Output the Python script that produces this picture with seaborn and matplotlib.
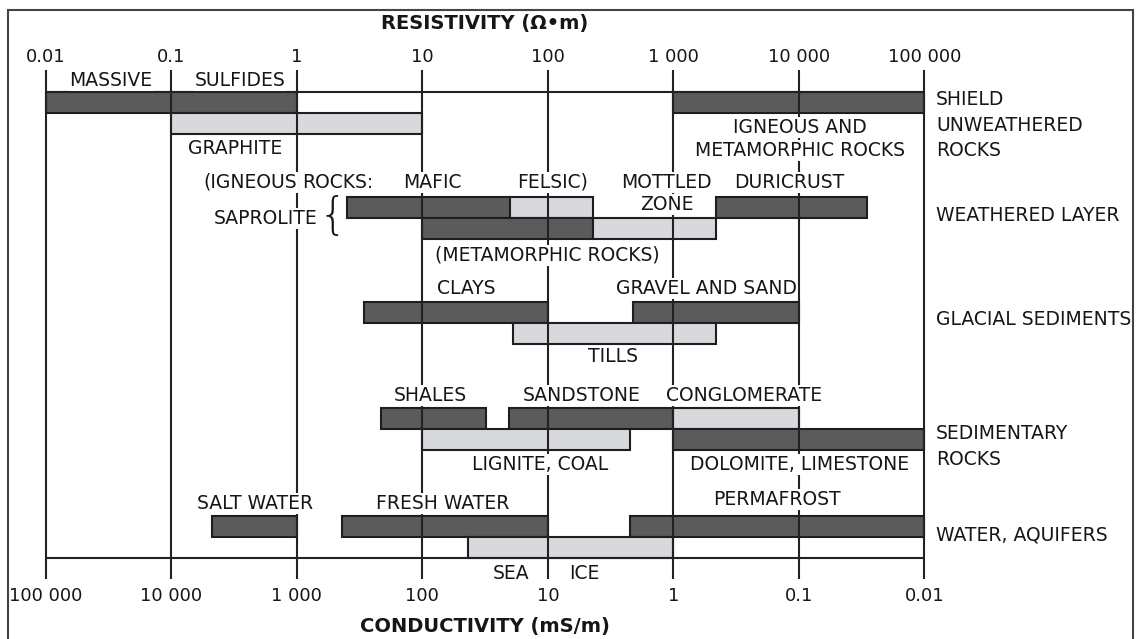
import numpy as np
import pandas as pd
import matplotlib
matplotlib.use("Agg")
import matplotlib.pyplot as plt
from matplotlib.patches import Rectangle
import seaborn as sns

# ---------------- data (resistivity ranges, ohm-m) ----------------
material = ["MASSIVE SULFIDES", "IGNEOUS AND METAMORPHIC ROCKS", "GRAPHITE",
            "SAPROLITE IGNEOUS MAFIC", "SAPROLITE IGNEOUS FELSIC", "DURICRUST",
            "SAPROLITE METAMORPHIC", "MOTTLED ZONE",
            "CLAYS", "GRAVEL AND SAND", "TILLS",
            "SHALES", "SANDSTONE", "CONGLOMERATE", "LIGNITE, COAL", "DOLOMITE, LIMESTONE",
            "SALT WATER", "FRESH WATER", "PERMAFROST", "SEA ICE"]
group = ["SHIELD", "SHIELD", "SHIELD",
         "WEATHERED", "WEATHERED", "WEATHERED", "WEATHERED", "WEATHERED",
         "GLACIAL", "GLACIAL", "GLACIAL",
         "SEDIMENTARY", "SEDIMENTARY", "SEDIMENTARY", "SEDIMENTARY", "SEDIMENTARY",
         "WATER", "WATER", "WATER", "WATER"]
res_low = [0.01, 1000, 0.1,
           2.5, 50, 2200, 10, 230,
           3.4, 480, 53,
           4.7, 49, 1000, 10, 1000,
           0.21, 2.3, 450, 23]
res_high = [1, 100000, 10,
            50, 230, 35000, 230, 2200,
            100, 10000, 2200,
            32, 1000, 10000, 450, 100000,
            1, 100, 100000, 1000]
shade = ["dark", "dark", "light",
         "dark", "light", "dark", "dark", "light",
         "dark", "dark", "light",
         "dark", "dark", "light", "light", "dark",
         "dark", "dark", "dark", "light"]
tier = [0, 0, 1,
        0, 0, 0, 1, 1,
        0, 0, 1,
        0, 0, 0, 1, 1,
        0, 0, 0, 1]

decades = [0.01, 0.1, 1, 10, 100, 1000, 10000, 100000]
res_ticklabels = ["0.01", "0.1", "1", "10", "100", "1 000", "10 000", "100 000"]
cond_ticklabels = ["100 000", "10 000", "1 000", "100", "10", "1", "0.1", "0.01"]

df = pd.DataFrame(dict(material=material, group=group, lo=res_low, hi=res_high,
                       shade=shade, tier=tier))

# ---------------- layout / style ----------------
W, H = 1139, 639
ROW_TOP = {"SHIELD": 91.5, "WEATHERED": 196.5, "GLACIAL": 302, "SEDIMENTARY": 408, "WATER": 516}
BAR_H = 21
FILL = {"dark": "#5b5b5b", "light": "#d8d9dc"}
EDGE = "#1e1e1e"
LINE = "#222222"
TXT = "#161616"
FS = 13.5

sns.set_theme(style="white")
plt.rcParams["font.family"] = ["DejaVu Sans"]

fig = plt.figure(figsize=(W / 100, H / 100), dpi=100)
ax = fig.add_axes([45.7 / W, 0, 878.8 / W, 1])
ax.set_xscale("log")
ax.set_xlim(decades[0], decades[-1])
ax.set_ylim(H, 0)
ax.axis("off")

# bars
for _, r in df.iterrows():
    yc = ROW_TOP[r.group] + r.tier * BAR_H + BAR_H / 2
    ax.barh(yc, r.hi - r.lo, left=r.lo, height=BAR_H, color=FILL[r.shade],
            edgecolor=EDGE, linewidth=1.5, zorder=2, clip_on=False)

# grid / axis lines
ax.vlines(decades, 70, 579, color=LINE, lw=1.5, zorder=3, clip_on=False)
ax.hlines([91.5, 558], decades[0], decades[-1], color=LINE, lw=1.5, zorder=3, clip_on=False)


def T(px, py, s, ha="center", bg=False, **kw):
    """place text by pixel centre-of-caps position"""
    kw.setdefault("fontsize", FS)
    cap = 0.729 * kw["fontsize"] * 100 / 72
    bbox = dict(boxstyle="square,pad=0.05", fc="white", ec="none") if bg else None
    fig.text(px / W, 1 - (py + cap / 2) / H, s, ha=ha, va="baseline", color=TXT,
             bbox=bbox, zorder=5, **kw)


# axis tick labels
for d, lab in zip(decades, res_ticklabels):
    px = ax.transData.transform((d, 0))[0]
    T(px, 55, lab, fontsize=13)
for d, lab in zip(decades, cond_ticklabels):
    px = ax.transData.transform((d, 0))[0]
    T(px, 594, lab, fontsize=13)

T(485, 22, "RESISTIVITY (Ω•m)", fontsize=14, fontweight="bold")
T(485, 625, "CONDUCTIVITY (mS/m)", fontsize=14, fontweight="bold")

# in-plot labels
labels = [("MASSIVE", 111, 79, "center"), ("SULFIDES", 240, 79, "center"),
          ("GRAPHITE", 235, 147, "center"),
          ("IGNEOUS AND", 800, 126, "center"), ("METAMORPHIC ROCKS", 800, 149, "center"),
          ("(IGNEOUS", 297, 181, "right"), ("ROCKS:", 302, 181, "left"),
          ("MAFIC", 432, 181, "center"), ("FELSIC)", 553, 181, "center"),
          ("MOTTLED", 666, 181, "center"), ("ZONE", 667, 203, "center"),
          ("DURICRUST", 789, 181, "center"), ("SAPROLITE", 266, 217, "center"),
          ("(METAMORPHIC ROCKS)", 547, 254, "center"),
          ("CLAYS", 466, 287, "center"), ("GRAVEL AND SAND", 706, 287, "center"),
          ("TILLS", 613, 355, "center"),
          ("SHALES", 430, 394, "center"), ("SANDSTONE", 582, 394, "center"),
          ("CONGLOMERATE", 744, 394, "center"),
          ("LIGNITE, COAL", 540, 463, "center"), ("DOLOMITE, LIMESTONE", 800, 463, "center"),
          ("SALT WATER", 255, 502, "center"), ("FRESH WATER", 443, 502, "center"),
          ("PERMAFROST", 777, 498, "center"),
          ("SEA", 511, 572, "center"), ("ICE", 584, 572, "center")]
for s, x, y, ha in labels:
    T(x, y, s, ha=ha, bg=True)

# brace
fig.text(333 / W, 1 - 217 / H, "{", ha="center", va="center", fontsize=32,
         fontweight="ultralight", color=TXT, zorder=5)

# group labels on the right
for s, y in [("SHIELD", 98), ("UNWEATHERED", 124), ("ROCKS", 149),
             ("WEATHERED LAYER", 214), ("GLACIAL SEDIMENTS", 318),
             ("SEDIMENTARY", 432), ("ROCKS", 458), ("WATER, AQUIFERS", 534)]:
    T(936, y, s, ha="left")

# outer frame
fig.patches.append(Rectangle((8 / W, -0.05), 1125 / W, 1.05 - 10 / H, fill=False,
                             ec="#444444", lw=1.5, transform=fig.transFigure, zorder=0))

fig.savefig("out.png", dpi=100)
